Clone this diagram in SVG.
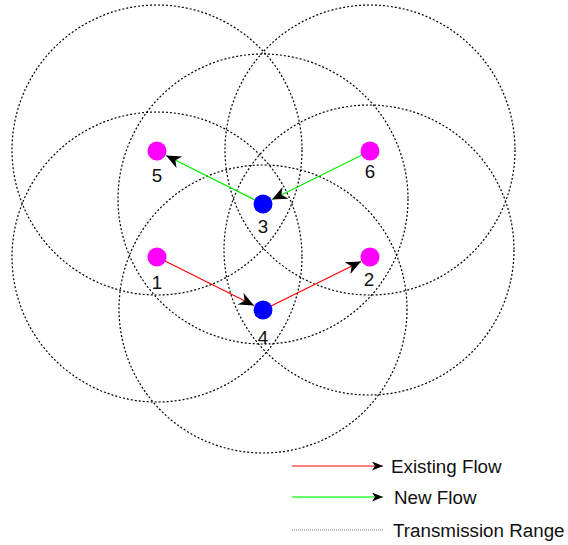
<svg xmlns="http://www.w3.org/2000/svg" width="568" height="545" viewBox="0 0 568 545">
<style>
.range{fill:none;stroke:#000;stroke-width:1.2;stroke-dasharray:2 2}
.red{stroke:#ff0000;stroke-width:1.2;fill:none}
.green{stroke:#00ee00;stroke-width:1.2;fill:none}
.pink{fill:#ff00ff}
.blue{fill:#0000ff}
.lbl{font-family:"Liberation Sans",Arial,sans-serif;font-size:18.8px;fill:#111;text-anchor:middle}
.leg{font-family:"Liberation Sans",Arial,sans-serif;font-size:18.8px;fill:#111}
</style>
<defs>
<marker id="arr" markerUnits="userSpaceOnUse" markerWidth="18" markerHeight="14" refX="15" refY="6.5" orient="auto">
<path d="M0,0 L15,6.5 L0,13 L4.5,6.5 Z" fill="#000"/>
</marker>
<marker id="arrs" markerUnits="userSpaceOnUse" markerWidth="12" markerHeight="9" refX="11" refY="4.5" orient="auto">
<path d="M0,0 L11,4.5 L0,9 L3,4.5 Z" fill="#000"/>
</marker>
</defs>
<g id="ranges">
<circle class="range" cx="157" cy="150" r="145"/>
<circle class="range" cx="370" cy="150" r="145"/>
<circle class="range" cx="263" cy="199" r="145"/>
<circle class="range" cx="157" cy="257" r="145"/>
<circle class="range" cx="369" cy="250" r="145"/>
<circle class="range" cx="263" cy="309" r="144"/>
</g>
<g id="connectors">
<line class="green" x1="370" y1="151" x2="272" y2="199.5" marker-end="url(#arr)"/>
<line class="green" x1="263" y1="204" x2="166" y2="155.5" marker-end="url(#arr)"/>
<line class="red" x1="157" y1="257" x2="254" y2="305.5" marker-end="url(#arr)"/>
<line class="red" x1="263" y1="310" x2="361" y2="261.5" marker-end="url(#arr)"/>
</g>
<g id="node5"><circle class="pink" cx="157" cy="151" r="9.5"/><text class="lbl" x="157" y="182">5</text></g>
<g id="node6"><circle class="pink" cx="370" cy="151" r="9.5"/><text class="lbl" x="370" y="178">6</text></g>
<g id="node3"><circle class="blue" cx="263" cy="204" r="9.5"/><text class="lbl" x="263" y="233">3</text></g>
<g id="node1"><circle class="pink" cx="157" cy="257" r="9.5"/><text class="lbl" x="157" y="289">1</text></g>
<g id="node2"><circle class="pink" cx="370" cy="257" r="9.5"/><text class="lbl" x="369" y="286">2</text></g>
<g id="node4"><circle class="blue" cx="263" cy="310" r="9.5"/><text class="lbl" x="263" y="344">4</text></g>
<g id="legend">
<line x1="292" y1="466" x2="383" y2="466" stroke="#ff0000" stroke-width="1.2" marker-end="url(#arrs)"/>
<text class="leg" x="391" y="473">Existing Flow</text>
<line x1="292" y1="497" x2="383" y2="497" stroke="#66ff66" stroke-width="2" marker-end="url(#arrs)"/>
<text class="leg" x="394" y="504">New Flow</text>
<line x1="292" y1="530" x2="383" y2="530" stroke="#777" stroke-width="1" stroke-dasharray="1 1"/>
<text class="leg" x="393" y="537">Transmission Range</text>
</g>
</svg>
